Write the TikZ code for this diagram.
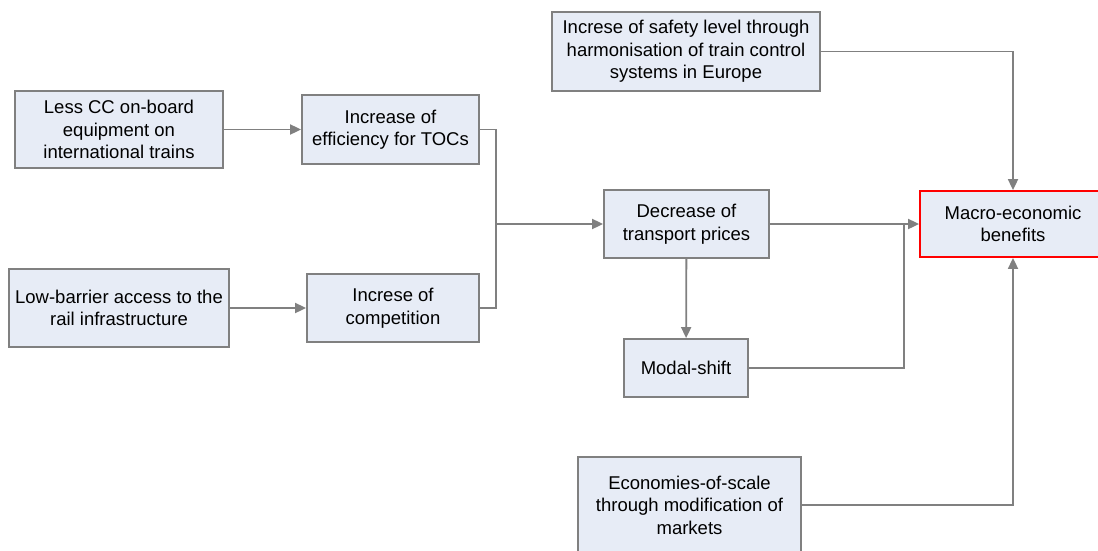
\documentclass[tikz,border=0pt]{standalone}
\usepackage{fontspec}
\setmainfont{Liberation Sans}
\usetikzlibrary{arrows.meta, positioning}
\definecolor{benefitfill}{RGB}{231, 236, 246}
\definecolor{benefitgray}{RGB}{128, 128, 128}
\definecolor{benefitred}{RGB}{255, 0, 0}

\begin{document}
\begin{tikzpicture}[
    x=1pt, y=-1pt,
    every node/.style={font=\fontsize{18.5}{22.5}\selectfont},
    box/.style={rectangle, draw=benefitgray, fill=benefitfill, line width=1.8pt, align=center, inner sep=0pt},
    arrow/.style={-{Triangle[length=11pt, width=10pt]}, draw=benefitgray, line width=1.8pt},
    link/.style={draw=benefitgray, line width=1.8pt}
]
\clip (0,0) rectangle (1098,550);

\node[box, minimum width=208, minimum height=77] (lesscc) at (119,129.5) {Less CC on-board\\equipment on\\international trains};
\node[box, minimum width=177, minimum height=69] (efficiency) at (390.5,129.5) {Increase of\\efficiency for TOCs};
\node[box, minimum width=220, minimum height=78] (lowbarrier) at (119,308) {Low-barrier access to the\\rail infrastructure};
\node[box, minimum width=172, minimum height=68] (competition) at (393,308) {Increse of\\competition};
\node[box, minimum width=165, minimum height=68] (prices) at (686.5,224) {Decrease of\\transport prices};
\node[box, minimum width=268, minimum height=79] (safety) at (686,51.5) {Increse of safety level through\\harmonisation of train control\\systems in Europe};
\node[box, draw=benefitred, minimum width=186, minimum height=66] (macro) at (1013,224) {Macro-economic\\benefits};
\node[box, minimum width=124, minimum height=58] (modal) at (686,368) {Modal-shift};
\node[box, minimum width=223, minimum height=96] (scale) at (689.5,505) {Economies-of-scale\\through modification of\\markets};

\coordinate (join) at (496,224);
\coordinate (merge) at (904,224);

\draw[arrow] (lesscc) -- (efficiency);
\draw[arrow] (lowbarrier) -- (competition);
\draw[link] (efficiency.east) -| (join);
\draw[link] (competition.east) -| (join);
\draw[arrow] (join) -- (prices);
\draw[arrow] (prices) -- (macro);
\draw[arrow] (prices) -- (modal);
\draw[link] (modal.east) -| (merge);
\draw[arrow] (safety.east) -| (macro.north);
\draw[arrow] (scale.east) -| (macro.south);

\end{tikzpicture}
\end{document}
